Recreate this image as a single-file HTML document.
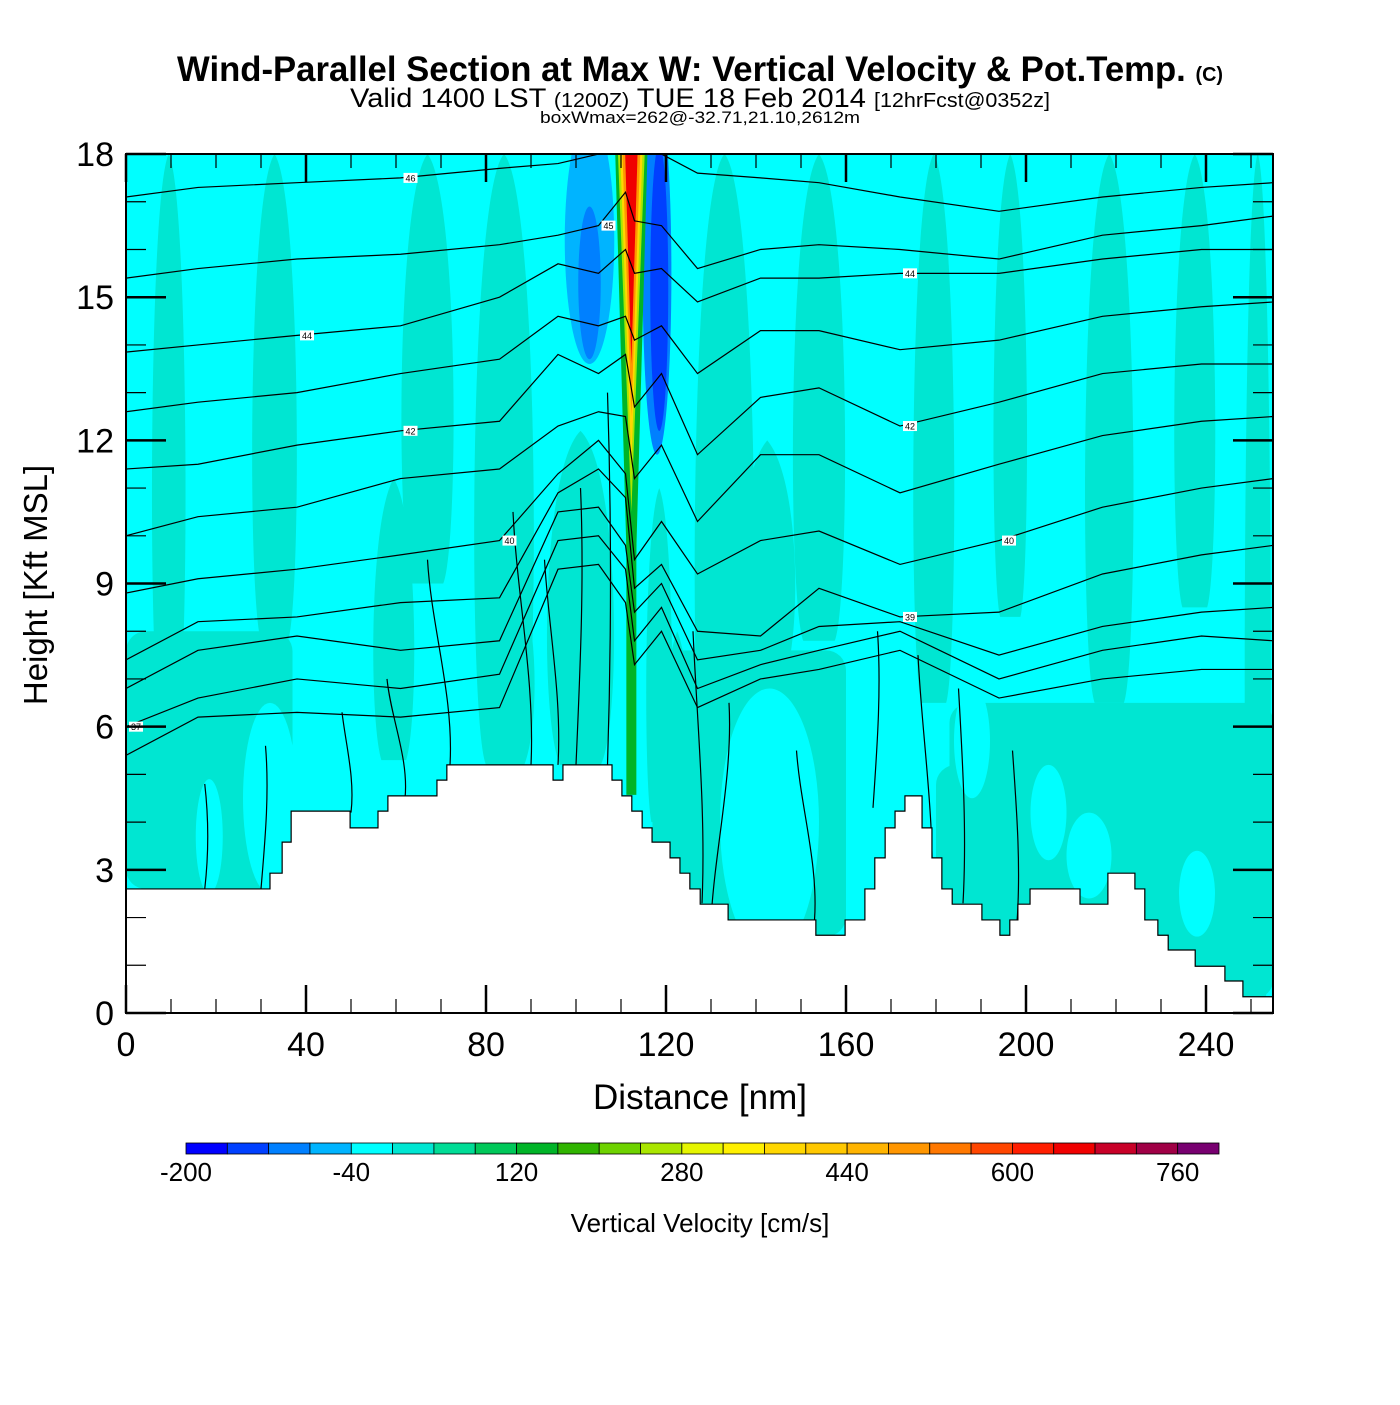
<!DOCTYPE html>
<html><head><meta charset="utf-8"><style>
body{margin:0;background:#fff;}
svg text{font-family:"Liberation Sans",Arial,sans-serif;}
</style></head><body>
<svg id="chart" width="1400" height="1400" viewBox="0 0 1400 1400" xmlns="http://www.w3.org/2000/svg">
<rect width="1400" height="1400" fill="#fff"/>
<text x="700" y="81" text-anchor="middle" font-size="35" font-weight="bold" textLength="1046" lengthAdjust="spacingAndGlyphs">Wind-Parallel Section at Max W: Vertical Velocity &amp; Pot.Temp. <tspan font-size="20">(C)</tspan></text>
<text x="700" y="107" text-anchor="middle" font-size="27" textLength="700" lengthAdjust="spacingAndGlyphs">Valid 1400 LST <tspan font-size="20">(1200Z)</tspan> TUE 18 Feb 2014 <tspan font-size="20">[12hrFcst@0352z]</tspan></text>
<text x="700" y="123" text-anchor="middle" font-size="17" textLength="320" lengthAdjust="spacingAndGlyphs">boxWmax=262@-32.71,21.10,2612m</text>
<defs><clipPath id="pc"><rect x="126" y="154" width="1147" height="859"/></clipPath></defs>
<g id="plot" clip-path="url(#pc)"></g>
<g id="axes"></g>
<g id="cbar"></g>
<text x="700" y="1109" text-anchor="middle" font-size="35">Distance [nm]</text>
<text transform="translate(47,585) rotate(-90)" text-anchor="middle" font-size="33">Height [Kft MSL]</text>
<text x="700" y="1232" text-anchor="middle" font-size="26">Vertical Velocity [cm/s]</text>
</svg>
<script>
// ---- data ----
const xTicks=[0,40,80,120,160,200,240];
const yTicks=[0,3,6,9,12,15,18];
const cbLevels=[-200,-160,-120,-80,-40,0,40,80,120,160,200,240,280,320,360,400,440,480,520,560,600,640,680,720,760,800];
const cbColors=["#0000ff","#0040ff","#0080ff","#00b4ff","#00ffff","#00e6d2","#00dc96","#00c85a","#00b428","#30b400","#6ed200","#aae600","#e6f500","#fff000","#ffd700","#ffc800","#ffb400","#ff9600","#ff7800","#ff4600","#ff1e00","#f00000","#c80028","#a00046","#780070"];
const cbLabels=[-200,-40,120,280,440,600,760];
// w streaks: [x0 nm, x1 nm, top kft, bottom kft, w value cm/s]
const streakX0=[5,27,54,76,92,78,125,147,174,192,212,232,248,115,119,135,60];
const streakX1=[14,39,65,92,110,92,141,161,185,201,225,243,255,122,126,150,74];
const streakTop=[18,18,11.2,18,12.2,9.5,18,18,18,18,18,18,18,11,8,12,18];
const streakBot=[6.5,7.8,5.3,5.2,5.2,5.2,4,7.8,6.5,8.3,6.5,8.5,0.3,4,4,7,9];
const streakW=[20,20,20,20,20,20,20,20,20,20,20,20,20,20,20,20,20];
// lower teal blocks [x0,x1,top,bottom,w]
const blockX0=[0,183,117,180,0];
const blockX1=[37,255,160,255,20];
const blockTop=[8,6.5,7.6,5.2,5];
const blockBot=[2.6,0.3,1.6,0.3,2.6];
const blockW=[20,20,20,20,20];
// cyan pockets [xc,yc,rx nm,ry kft,w]
const pocketX=[18.5,32,143,188,214,238,205];
const pocketY=[3.7,4.5,4,5.7,3.3,2.5,4.2];
const pocketRX=[3,6,11,4,5,4,4];
const pocketRY=[1.2,2,2.8,1.2,0.9,0.9,1];
const pocketW=[-20,-20,-20,-20,-20,-20,-20];
// updraft plume: nested layers [half-width nm at top, tip kft, w]
const plumeHalf=[3.6,3.0,2.5,2.0,1.4];
const plumeTip=[6,10.5,11.5,12.5,13.6];
const plumeW=[140,260,360,500,650];
const plumeCenter=112.3;
// downdraft zones [xc,yc,rx,ry,w]
const downX=[103,103,118,118.5];
const downY=[16.2,15.3,15.5,15.2];
const downRX=[5.5,2.5,3.2,2.0];
const downRY=[2.6,1.6,3.8,3.0];
const downW=[-50,-90,-90,-130];
// terrain: distance breakpoints and height of each segment
const terrX=[0,32,34.7,36.7,49.8,56,58.2,69.1,71.3,94.9,97.1,108,110.2,112.4,114.7,116.9,120.9,123.1,125.3,127.6,133.8,153.3,159.8,164.2,166.4,168.7,170.9,173.1,176.9,179.1,181.3,183.6,190.2,194.2,196.4,198.2,200.9,212,218.2,224.2,226.4,229.3,231.6,237.6,244.2,248.2,255];
const terrH=[2.6,2.93,3.58,4.23,3.88,4.23,4.55,4.88,5.2,4.88,5.2,4.88,4.55,4.23,3.88,3.58,3.25,2.93,2.6,2.28,1.95,1.63,1.95,2.6,3.25,3.88,4.23,4.55,3.88,3.25,2.6,2.28,1.95,1.63,1.95,2.28,2.6,2.28,2.93,2.6,1.95,1.63,1.32,0.98,0.67,0.34];
// theta contours: heights (kft) at distances
const thX=[0,16,38,61,83,96,105,111,113,119,127,141,154,172,194,217,239,255];
const thLev=[46,45,44,43,42,41,40,39,38,37,36];
const thH=[
[17.1,17.3,17.4,17.5,17.7,17.8,18,18.3,18.3,18,17.6,17.5,17.4,17.1,16.8,17.1,17.3,17.4],
[15.4,15.6,15.8,15.9,16.1,16.3,16.5,17.2,16.6,16.5,15.6,16,16.1,16,15.8,16.3,16.5,16.7],
[13.85,14,14.2,14.4,15,15.7,15.5,16,15.5,15.6,14.9,15.4,15.4,15.5,15.5,15.8,16,16],
[12.6,12.8,13,13.4,13.7,14.6,14.4,14.6,14.1,14.4,13.4,14.3,14.3,13.9,14.1,14.6,14.8,14.9],
[11.4,11.5,11.9,12.2,12.4,13.8,13.4,13.8,12.7,13.4,11.7,12.9,13.1,12.3,12.8,13.4,13.6,13.6],
[10,10.4,10.6,11.2,11.4,12.3,12.6,12.5,11.2,11.9,10.3,11.7,11.7,10.9,11.5,12.1,12.4,12.5],
[8.8,9.1,9.3,9.6,9.9,11.3,12,11.3,9.5,10.3,9.2,9.9,10.1,9.4,9.9,10.6,11,11.2],
[7.4,8.2,8.3,8.6,8.7,10.9,11.4,10.8,8.9,9.4,8,7.9,8.9,8.3,8.4,9.2,9.6,9.8],
[6.8,7.6,7.9,7.6,7.8,10.5,10.6,9.8,8.4,9,7.4,7.6,8.1,8.2,7.5,8.1,8.4,8.5],
[6,6.6,7,6.8,7.1,9.9,10,9.3,7.8,8.5,6.8,7.3,7.6,8,7,7.6,7.9,7.8],
[5.4,6.2,6.3,6.2,6.4,9.3,9.4,8.6,7.3,8,6.4,7,7.2,7.6,6.6,7,7.2,7.2]];
const thLabelIdx=[[0,3],[1,6],[2,2],[2,13],[4,3],[4,13],[6,4],[6,14],[9,0],[7,13]];
// vertical contours lower domain: [x nm at top, x at bottom, top kft, bottom kft]
const vcX0=[17.5,31,48,58,67,86,93,101,107,126,134,149,167,176,185,197];
const vcX1=[17.5,30,50,62,72,90,96,100,107,128,130,153,166,179,186,198];
const vcT=[4.8,5.6,6.3,7,9.5,10.5,9.5,11,13,8,6.5,5.5,8,7.5,6.8,5.5];
const vcB=[2.6,2.6,4.2,4.5,5.2,5.2,5.2,5.2,5.2,2.3,1.95,1.95,4.3,2.3,2.3,1.9];

// ---- helpers ----
const NS="http://www.w3.org/2000/svg";
const X=d=>126+d*4.5, Y=h=>1013-h*47.72;
function colorFor(w){let i=0;while(i<cbColors.length-1&&w>=cbLevels[i+1])i++;return cbColors[i];}
function mk(tag,attrs,parent){const e=document.createElementNS(NS,tag);for(const k in attrs)e.setAttribute(k,attrs[k]);parent.appendChild(e);return e;}
const plot=document.getElementById('plot');
mk('rect',{x:126,y:154,width:1147,height:859,fill:colorFor(-20)},plot);
for(let i=0;i<streakX0.length;i++){
 const x0=X(streakX0[i]),x1=X(streakX1[i]),yt=Y(streakTop[i]),yb=Y(streakBot[i]),xm=(x0+x1)/2;
 const p=mk('path',{d:`M${xm},${yt} C${x1},${yt+40} ${x1},${yb-40} ${xm+ (x1-x0)*0.25},${yb} L${xm-(x1-x0)*0.25},${yb} C${x0},${yb-40} ${x0},${yt+40} ${xm},${yt} Z`,fill:colorFor(streakW[i])},plot);
 
 
}
for(let i=0;i<blockX0.length;i++){
 const r=mk('rect',{x:X(blockX0[i]),y:Y(blockTop[i]),width:X(blockX1[i])-X(blockX0[i]),height:Y(blockBot[i])-Y(blockTop[i]),rx:20,fill:colorFor(blockW[i])},plot);
 
 
}
for(let i=0;i<pocketX.length;i++){
 const e=mk('ellipse',{cx:X(pocketX[i]),cy:Y(pocketY[i]),rx:pocketRX[i]*4.5,ry:pocketRY[i]*47.72,fill:colorFor(pocketW[i])},plot);
 
 
}
for(let i=0;i<downX.length;i++){
 const e=mk('ellipse',{cx:X(downX[i]),cy:Y(downY[i]),rx:downRX[i]*4.5,ry:downRY[i]*47.72,fill:colorFor(downW[i])},plot);
 
 
}
// plume green column
{const g=mk('rect',{x:X(plumeCenter)-5,y:154,width:10,height:Y(5.2)-154+30,fill:colorFor(130)},plot);
 
 }
for(let i=0;i<plumeHalf.length;i++){
 const xc=X(plumeCenter),hw=plumeHalf[i]*4.5;
 const p=mk('path',{d:`M${xc-hw},150 L${xc+hw},150 L${xc},${Y(plumeTip[i])} Z`,fill:colorFor(plumeW[i])},plot);
 
 
}
// theta contours
for(let j=0;j<thH.length;j++){
 const pts=thX.map((d,k)=>X(d)+','+Y(thH[j][k])).join(' ');
 const l=mk('polyline',{points:pts,fill:'none',stroke:'#000','stroke-width':1.2},plot);
 
 
}
for(let i=0;i<vcX0.length;i++){
 const x0=X(vcX0[i]),x1=X(vcX1[i]),yt=Y(vcT[i]),yb=Y(vcB[i]);
 const l=mk('path',{d:`M${x0},${yt} C${x0+4},${(yt*2+yb)/3} ${x1+4},${(yt+yb*2)/3} ${x1},${yb}`,fill:'none',stroke:'#000','stroke-width':1.2},plot);
 
 
}
for(const [j,k] of thLabelIdx){
 const x=X(thX[k])+10,y=Y(thH[j][k]);
 mk('rect',{x:x-7,y:y-5,width:14,height:10,fill:'#fff'},plot);
 const t=mk('text',{x:x,y:y+3.5,'font-size':9,'text-anchor':'middle'},plot);
 t.textContent=thLev[j];
 
 
}
// terrain
{let d=`M126,1013 `;for(let i=0;i<terrH.length;i++){d+=`L${X(terrX[i])},${Y(terrH[i])} L${X(terrX[i+1])},${Y(terrH[i])} `;}d+=`L1273,1013 Z`;
 const t=mk('path',{d:d,fill:'#fff',stroke:'#000','stroke-width':1.2},plot);
 
 }
// axes
const ax=document.getElementById('axes');
{const f=mk('rect',{x:126,y:154,width:1147,height:859,fill:'none',stroke:'#000','stroke-width':2},ax);
 
 }
for(let d=0;d<=255;d+=10){const maj=d%40===0,L=maj?28:14;
 mk('line',{x1:X(d),x2:X(d),y1:1013,y2:1013-L,stroke:'#000','stroke-width':maj?2.5:1.2},ax);
 mk('line',{x1:X(d),x2:X(d),y1:154,y2:154+L,stroke:'#000','stroke-width':maj?2.5:1.2},ax);}
for(let h=0;h<=18;h++){const maj=h%3===0,L=maj?40:20;
 mk('line',{x1:126,x2:126+L,y1:Y(h),y2:Y(h),stroke:'#000','stroke-width':maj?2.5:1.2},ax);
 mk('line',{x1:1273,x2:1273-L,y1:Y(h),y2:Y(h),stroke:'#000','stroke-width':maj?2.5:1.2},ax);}
for(const v of xTicks){const t=mk('text',{x:X(v),y:1056,'font-size':34,'text-anchor':'middle'},ax);t.textContent=v;
 
 }
for(const v of yTicks){const t=mk('text',{x:114,y:Y(v)+12,'font-size':34,'text-anchor':'end'},ax);t.textContent=v;
 
 }
// colorbar
const cb=document.getElementById('cbar');
const cbX=v=>186+(v+200)*1033/1000;
for(let i=0;i<cbColors.length;i++){const r=mk('rect',{x:cbX(cbLevels[i]),y:1143,width:cbX(cbLevels[i+1])-cbX(cbLevels[i]),height:11,fill:cbColors[i],stroke:'#000','stroke-width':0.8},cb);
 
 }
for(const v of cbLabels){const t=mk('text',{x:cbX(v),y:1181,'font-size':26,'text-anchor':'middle'},cb);t.textContent=v;
 
 }
</script>
</body></html>
